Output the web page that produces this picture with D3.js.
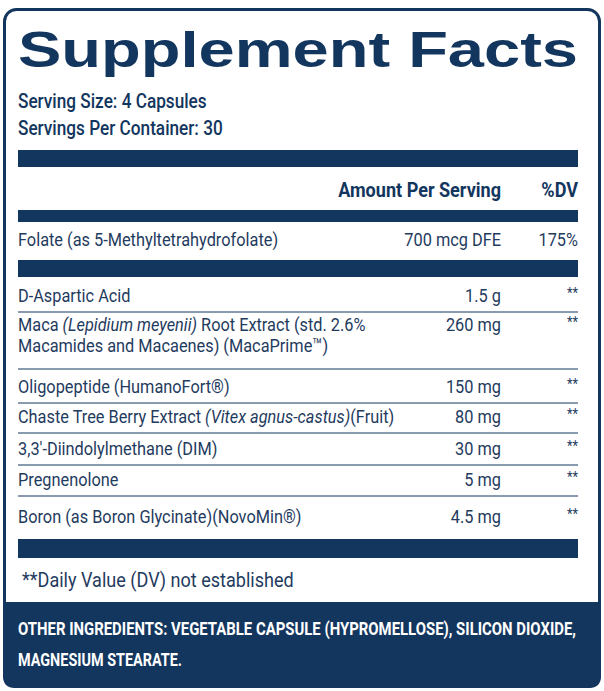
<!DOCTYPE html>
<html><head><meta charset="utf-8">
<script src="https://cdn.jsdelivr.net/npm/d3@7"></script>
<style>body{margin:0;background:#fff}</style></head>
<body><svg id="c" width="604" height="691"></svg>
<script>
const title = "Supplement Facts";
const servingInfo = ["Serving Size: 4 Capsules", "Servings Per Container: 30"];
const headers = ["Amount Per Serving", "%DV"];
const folate = {name: [["Folate (as 5-Methyltetrahydrofolate)", false]], amount: "700 mcg DFE", dv: "175%"};
const ingredients = [
  [["D-Aspartic Acid", false]],
  [["Maca ", false], ["(Lepidium meyenii)", true], [" Root Extract (std. 2.6%", false], ["|Macamides and Macaenes) (MacaPrime™)", false]],
  [["Oligopeptide (HumanoFort®)", false]],
  [["Chaste Tree Berry Extract ", false], ["(Vitex agnus-castus)", true], ["(Fruit)", false]],
  [["3,3'-Diindolylmethane (DIM)", false]],
  [["Pregnenolone", false]],
  [["Boron (as Boron Glycinate)(NovoMin®)", false]]
];
const amounts = ["1.5 g", "260 mg", "150 mg", "80 mg", "30 mg", "5 mg", "4.5 mg"];
const dvs = ["**", "**", "**", "**", "**", "**", "**"];
const footnote = "**Daily Value (DV) not established";
const otherIngredients = ["OTHER INGREDIENTS: VEGETABLE CAPSULE (HYPROMELLOSE), SILICON DIOXIDE,", "MAGNESIUM STEARATE."];

const navy = "#13365e", txt = "#1f3b5e";
const font = "Roboto,'Noto Sans',sans-serif";
const SX = 0.86;
const svg = d3.select("#c");
const L = 18, R = 578, amtX = 501;

function T(x, y, opts) {
  const sx = opts.sx || SX;
  return svg.append("text").attr("transform", `scale(${sx},1)`)
    .attr("x", x / sx).attr("y", y).attr("font-family", font)
    .attr("font-size", opts.size || 18).attr("fill", opts.fill || txt)
    .attr("font-weight", opts.weight || "normal")
    .attr("text-anchor", opts.anchor || "start");
}

const bp = d3.path();
bp.moveTo(3,602); bp.lineTo(601,602); bp.lineTo(601,676); bp.quadraticCurveTo(601,688,589,688);
bp.lineTo(15,688); bp.quadraticCurveTo(3,688,3,676); bp.closePath();
svg.append("path").attr("d", bp.toString()).attr("fill", navy);
svg.append("rect").attr("x",4.5).attr("y",9.5).attr("width",595).attr("height",677).attr("rx",12)
  .attr("fill","none").attr("stroke",navy).attr("stroke-width",3);

svg.append("text").attr("x",L).attr("y",67).attr("font-family","'Liberation Sans',Arial,sans-serif")
  .attr("font-weight","bold").attr("font-size",50).attr("fill",navy)
  .attr("textLength",R-L).attr("lengthAdjust","spacingAndGlyphs").text(title);

servingInfo.forEach((d,i)=>T(L, 108+i*27, {size:20, weight:500, fill:navy}).text(d));

const bars = [[150,17],[210,12],[260,17],[539,19]];
svg.selectAll(".bar").data(bars).join("rect").attr("x",L).attr("width",R-L)
  .attr("y",d=>d[0]).attr("height",d=>d[1]).attr("fill",navy);

headers.forEach((d,i)=>T(i?R:amtX, 197, {size:21, weight:"bold", fill:navy, anchor:"end"}).text(d));

function drawName(parts, y) {
  const t = T(L, y, {size:19});
  parts.forEach(([s,it])=>{
    if (s.startsWith("|")) t.append("tspan").attr("x",L/SX).attr("dy",21).text(s.slice(1));
    else t.append("tspan").attr("font-style",it?"italic":"normal").text(s);
  });
}
drawName(folate.name, 246);
T(amtX, 246, {size:19, anchor:"end"}).text(folate.amount);
T(R, 246, {size:19, anchor:"end"}).text(folate.dv);

const baseY = [302, 331, 393, 423, 455, 486, 523];
ingredients.forEach((p,i)=>{
  const by = baseY[i];
  drawName(p, by);
  T(amtX, by, {size:19, anchor:"end"}).text(amounts[i]);
  T(R, by-4, {size:15, anchor:"end"}).text(dvs[i]);
  if (i < ingredients.length-1) {
    const ly = (i===1? by+38 : by+10);
    svg.append("line").attr("x1",L).attr("x2",R).attr("y1",ly).attr("y2",ly)
      .attr("stroke",navy).attr("stroke-width",1);
  }
});

T(22, 587, {size:21}).text(footnote);

otherIngredients.forEach((d,i)=>svg.append("text").attr("x",L).attr("y",635+i*31)
  .attr("font-family",font).attr("font-weight","bold").attr("font-size",19).attr("fill","#fff")
  .attr("textLength",i?164:558).attr("lengthAdjust","spacingAndGlyphs").text(d));
</script></body></html>
